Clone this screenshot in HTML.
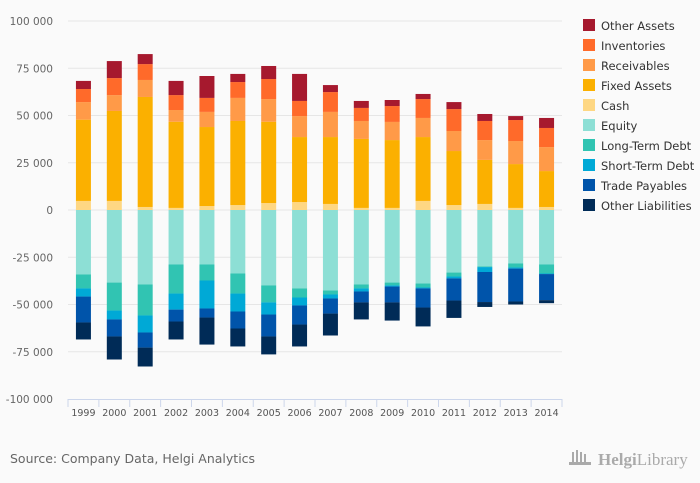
<!DOCTYPE html>
<html><head><meta charset="utf-8"><style>
body{margin:0;background:#fafafa;}
svg{display:block;font-family:"DejaVu Sans","Liberation Sans",sans-serif;}
</style></head><body>
<svg id="c" width="700" height="483">
<rect width="700" height="483" fill="#fafafa"/>
<g id="grid"></g>
<g id="yax"></g>
<g id="bars"></g>
<g id="xax"></g>
<g id="legend"></g>
<text x="10" y="463" font-size="12.5" fill="#666">Source: Company Data, Helgi Analytics</text>
<g>
<g fill="#aaa"><rect x="572" y="452" width="2" height="11"/><rect x="576" y="450" width="2" height="13"/><rect x="580" y="452" width="2" height="11"/><rect x="584" y="454" width="2" height="9"/><rect x="569" y="462" width="22" height="3"/></g>
<text x="598" y="465" font-size="17" fill="#aaa" font-family="Liberation Serif,serif"><tspan font-weight="bold">Helgi</tspan>Library</text>
</g>
</svg>
<script>
const years=["1999","2000","2001","2002","2003","2004","2005","2006","2007","2008","2009","2010","2011","2012","2013","2014"];
const cash=[4.8,4.8,1.6,1.1,2.1,2.6,3.7,4.2,3.2,1.1,1.1,4.8,2.6,3.2,1.1,1.6];
const fixedAssets=[43.0,47.6,58.2,45.6,41.8,44.5,43.0,34.4,35.4,36.5,35.9,33.8,28.6,23.3,23.2,19.0];
const receivables=[9.3,8.4,9.0,6.2,8.0,12.2,12.0,11.1,13.3,9.5,9.6,10.1,10.6,10.5,12.2,12.7];
const inventories=[6.9,9.0,8.4,7.9,7.4,8.4,10.6,8.0,10.5,6.9,8.4,10.0,11.6,10.1,11.1,10.1];
const otherAssets=[4.3,9.0,5.3,7.5,11.6,4.3,6.9,14.3,3.7,3.7,3.2,2.7,3.7,3.7,2.1,5.3];
const equity=[34.1,38.4,39.4,28.8,28.8,33.6,39.9,41.5,42.6,39.4,38.4,38.9,33.1,29.9,28.3,28.8];
const longTermDebt=[7.4,14.8,16.4,15.4,8.5,10.6,9.0,4.8,2.1,2.1,1.5,2.1,2.1,0.3,2.1,4.8];
const shortTermDebt=[4.3,4.7,9.0,8.5,14.8,9.5,6.4,4.2,2.1,1.6,0.6,0.5,1.0,2.6,0.6,0.3];
const tradePayables=[13.7,9.0,8.0,6.3,4.8,9.0,11.6,10.1,8.0,5.8,8.4,10.1,11.7,15.9,17.4,13.8];
const otherLiabilities=[9.0,12.2,10.0,9.5,14.3,9.5,9.5,11.6,11.6,9.0,9.6,10.0,9.2,2.6,1.6,1.6];
const yTicks=[100,75,50,25,0,-25,-50,-75,-100];
const yTickLabels=["100 000","75 000","50 000","25 000","0","-25 000","-50 000","-75 000","-100 000"];

const NS="http://www.w3.org/2000/svg";
const X0=68,X1=562,Y0=21,Y1=399;
const y=v=>Y0+(100-v)/200*(Y1-Y0);
const band=(X1-X0)/years.length;
const xc=i=>X0+band*(i+0.5);
const BW=15;
function mk(t,p,a){const e=document.createElementNS(NS,t);for(const k in a)e.setAttribute(k,a[k]);p.appendChild(e);return e;}
const grid=document.getElementById('grid'),yax=document.getElementById('yax'),bars=document.getElementById('bars'),xax=document.getElementById('xax'),leg=document.getElementById('legend');
yTicks.forEach((t,i)=>{
 if(t!==-100){const l=mk('line',grid,{x1:X0,x2:X1,y1:y(t),y2:y(t),stroke:'#e6e6e6','stroke-width':1});
 
 }
 const tx=mk('text',yax,{x:53,y:y(t)+4,'text-anchor':'end','font-size':10.5,fill:'#666'});
 tx.textContent=yTickLabels[i];
 
 
});
const pos=[["Cash",cash,"#fed783"],["Fixed Assets",fixedAssets,"#fbb000"],["Receivables",receivables,"#ff9a48"],["Inventories",inventories,"#ff6a2a"],["Other Assets",otherAssets,"#a6192e"]];
const neg=[["Equity",equity,"#8ddfd5"],["Long-Term Debt",longTermDebt,"#31c4b2"],["Short-Term Debt",shortTermDebt,"#00a9d6"],["Trade Payables",tradePayables,"#0054aa"],["Other Liabilities",otherLiabilities,"#002b57"]];
years.forEach((yr,i)=>{
 let c=0;
 pos.forEach(s=>{const v=s[1][i];const r=mk('rect',bars,{x:xc(i)-BW/2,y:y(c+v),width:BW,height:y(c)-y(c+v),fill:s[2]});
  
  c+=v;});
 c=0;
 neg.forEach(s=>{const v=s[1][i];const r=mk('rect',bars,{x:xc(i)-BW/2,y:y(c),width:BW,height:y(c-v)-y(c),fill:s[2]});
  
  c-=v;});
 const t=mk('text',xax,{x:xc(i),y:416,'text-anchor':'middle','font-size':9.5,fill:'#555'});
 t.textContent=yr;
 
 
});
const al=mk('line',xax,{x1:X0,x2:X1,y1:Y1+0.5,y2:Y1+0.5,stroke:'#ccd6eb'});


for(let i=0;i<=years.length;i++){const tk=mk('line',xax,{x1:X0+band*i,x2:X0+band*i,y1:Y1,y2:Y1+8,stroke:'#ccd6eb'});
 
 }
const legendItems=[pos[4],pos[3],pos[2],pos[1],pos[0],neg[0],neg[1],neg[2],neg[3],neg[4]];
legendItems.forEach((s,i)=>{
 const g=mk('g',leg,{});
 
 
 mk('rect',g,{x:583,y:19+i*20,width:12,height:12,fill:s[2]});
 const t=mk('text',g,{x:601,y:30+i*20,'font-size':11.5,fill:'#333'});t.textContent=s[0];
});
</script>
</body></html>
